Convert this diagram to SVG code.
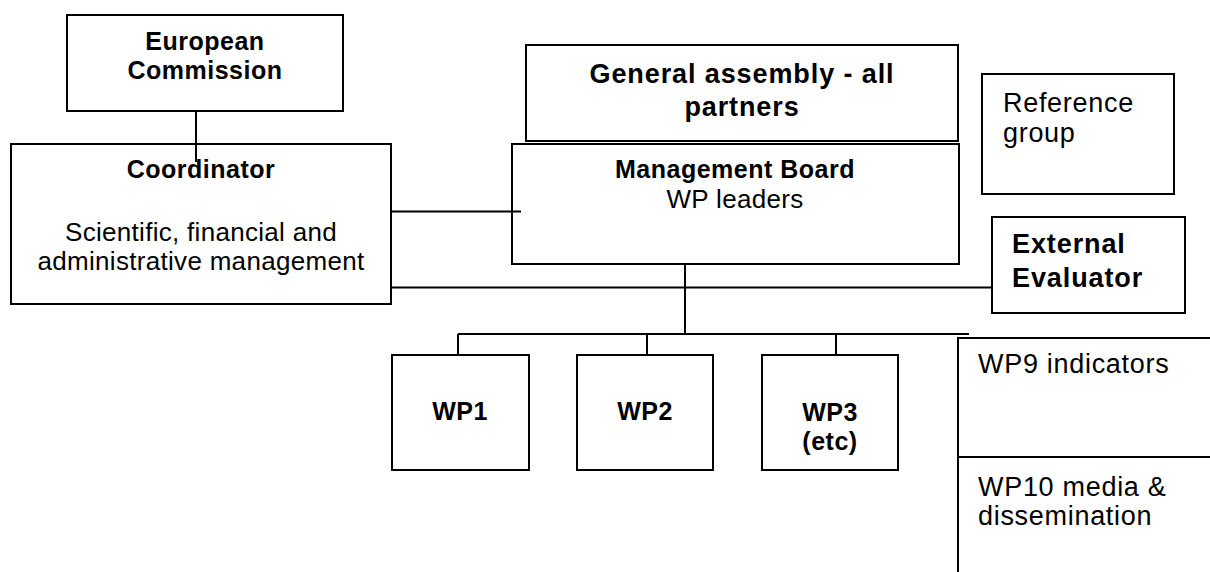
<svg xmlns="http://www.w3.org/2000/svg" width="1210" height="572" viewBox="0 0 1210 572">
<style>
.box{fill:#fff;stroke:#000;stroke-width:2}
.ln{fill:none;stroke:#000;stroke-width:2}
text{font-family:"Liberation Sans",Arial,sans-serif;fill:#000}
.b{font-weight:bold;font-size:25px;letter-spacing:0.5px}
.bl{font-weight:bold;font-size:27px;letter-spacing:0.9px}
.r{font-size:26px;letter-spacing:0.3px}
.rl{font-size:27px;letter-spacing:0.7px}
.m{text-anchor:middle}
</style>
<rect width="1210" height="572" fill="#fff"/>
<g id="european-commission">
<rect class="box" x="67" y="15" width="276" height="96"/>
<text class="b m" x="205" y="50">European</text>
<text class="b m" x="205" y="79">Commission</text>
</g>
<g id="coordinator">
<rect class="box" x="11" y="144" width="380" height="160"/>
<text class="b m" x="201" y="178">Coordinator</text>
<text class="r m" x="201" y="241">Scientific, financial and</text>
<text class="r m" x="201" y="270">administrative management</text>
</g>
<g id="general-assembly">
<rect class="box" x="526" y="45" width="432" height="96"/>
<text class="bl m" x="742" y="83">General assembly - all</text>
<text class="bl m" x="742" y="116">partners</text>
</g>
<g id="management-board">
<rect class="box" x="512" y="144" width="447" height="120"/>
<text class="b m" x="735" y="178">Management Board</text>
<text class="r m" x="735" y="208">WP leaders</text>
</g>
<g id="reference-group">
<rect class="box" x="982" y="74" width="192" height="120"/>
<text class="rl" x="1003" y="112">Reference</text>
<text class="rl" x="1003" y="142">group</text>
</g>
<g id="external-evaluator">
<rect class="box" x="992" y="217" width="193" height="96"/>
<text class="bl" x="1012" y="253">External</text>
<text class="bl" x="1012" y="287">Evaluator</text>
</g>
<g id="wp1">
<rect class="box" x="392" y="355" width="137" height="115"/>
<text class="b m" x="460" y="420">WP1</text>
</g>
<g id="wp2">
<rect class="box" x="577" y="355" width="136" height="115"/>
<text class="b m" x="645" y="420">WP2</text>
</g>
<g id="wp3">
<rect class="box" x="762" y="355" width="136" height="115"/>
<text class="b m" x="830" y="421">WP3</text>
<text class="b m" x="830" y="450">(etc)</text>
</g>
<g id="wp9-wp10">
<path class="ln" d="M958 572V338H1212M958 457H1212"/>
<text class="rl" x="978" y="373">WP9 indicators</text>
<text class="rl" x="978" y="496">WP10 media &amp;</text>
<text class="rl" x="978" y="525">dissemination</text>
</g>
<g id="connectors">
<path class="ln" d="M196 111V162"/>
<path class="ln" d="M391 211.5H521"/>
<path class="ln" d="M391 287.5H992"/>
<path class="ln" d="M685 264V334"/>
<path class="ln" d="M458 334H969"/>
<path class="ln" d="M458 334V355M647 334V355M836 334V355"/>
</g>
</svg>
